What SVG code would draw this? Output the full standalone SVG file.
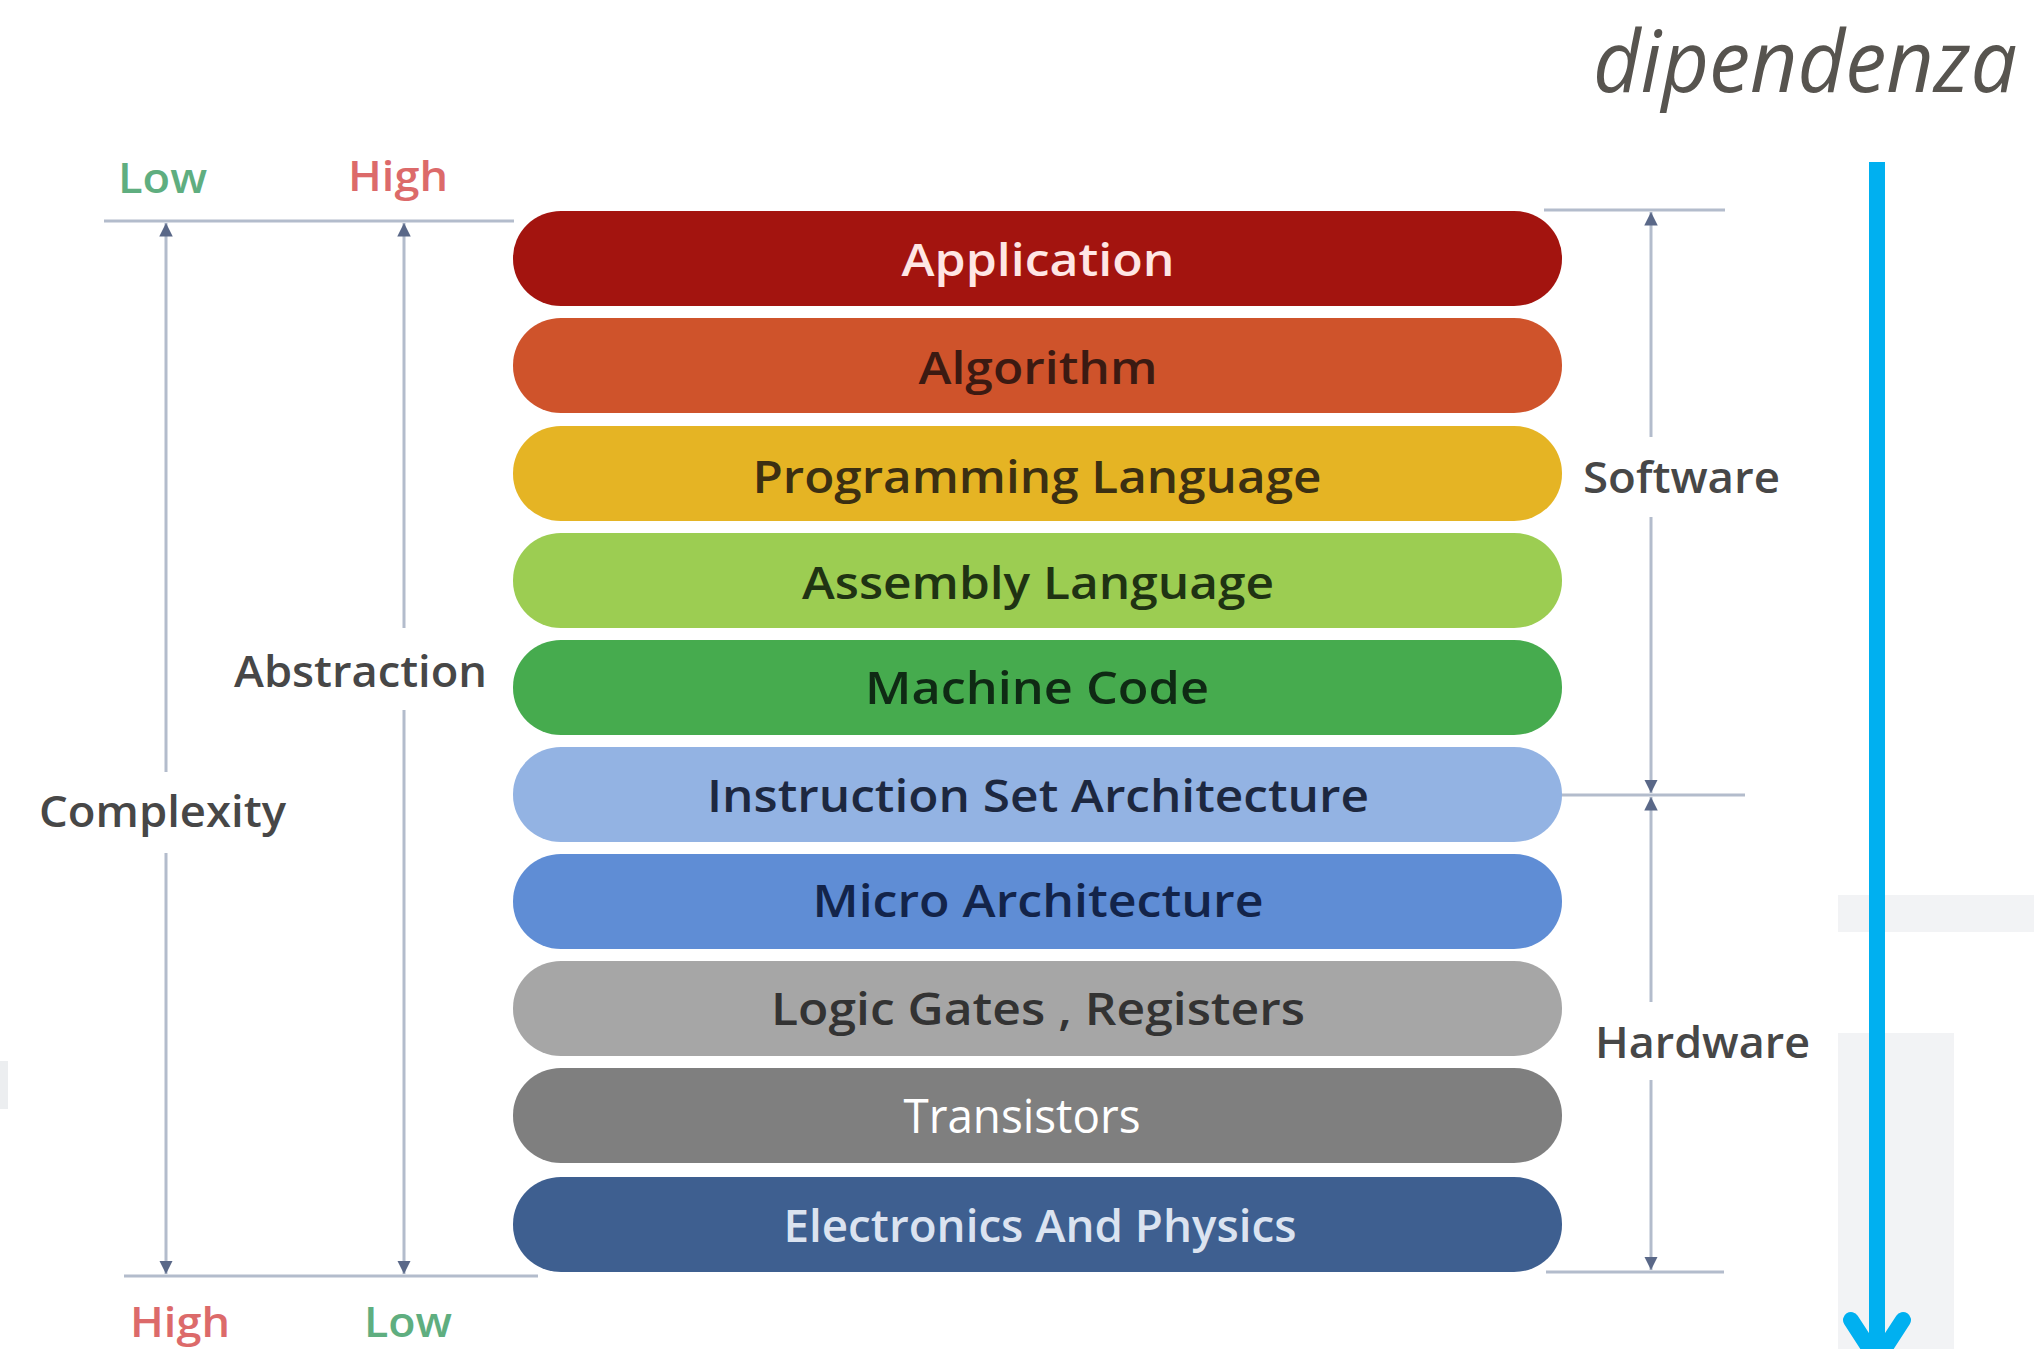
<svg xmlns="http://www.w3.org/2000/svg" width="2034" height="1349" viewBox="0 0 2034 1349">
<style>
.bar-t{font-family:"Open Sans","DejaVu Sans",sans-serif;font-weight:600;font-size:46px;text-anchor:middle}
.side{font-family:"Open Sans","DejaVu Sans",sans-serif;font-weight:600;font-size:43px;fill:#474747}
.lh{font-family:"Open Sans","DejaVu Sans",sans-serif;font-weight:600;font-size:41px}
.low{fill:#5fae80}
.high{fill:#dc6a6a}
.ln{stroke:#b3bccc;stroke-width:3;fill:none}
</style>
<defs>
<marker id="ah" viewBox="0 0 10 10" refX="10" refY="5" markerWidth="4.5" markerHeight="4.5" markerUnits="strokeWidth" orient="auto-start-reverse">
<path d="M0,0 L10,5 L0,10 z" fill="#5a6888"/>
</marker>
</defs>
<rect width="2034" height="1349" fill="#ffffff"/>
<rect x="1838" y="895" width="196" height="37" fill="#f2f3f5"/>
<rect x="1838" y="1033" width="116" height="316" fill="#f2f3f5"/>
<rect x="0" y="1061" width="8" height="48" fill="#eceef0"/>

<g id="connectors">
<line class="ln" x1="104" y1="221" x2="514" y2="221"/>
<line class="ln" x1="124" y1="1276" x2="538" y2="1276"/>
<line class="ln" x1="1544" y1="210" x2="1725" y2="210"/>
<line class="ln" x1="1560" y1="795" x2="1745" y2="795"/>
<line class="ln" x1="1546" y1="1272" x2="1724" y2="1272"/>
<line class="ln" x1="166" y1="772" x2="166" y2="223" marker-end="url(#ah)"/>
<line class="ln" x1="166" y1="853" x2="166" y2="1274" marker-end="url(#ah)"/>
<line class="ln" x1="404" y1="628" x2="404" y2="223" marker-end="url(#ah)"/>
<line class="ln" x1="404" y1="710" x2="404" y2="1274" marker-end="url(#ah)"/>
<line class="ln" x1="1651" y1="437" x2="1651" y2="212" marker-end="url(#ah)"/>
<line class="ln" x1="1651" y1="517" x2="1651" y2="793" marker-end="url(#ah)"/>
<line class="ln" x1="1651" y1="1002" x2="1651" y2="797" marker-end="url(#ah)"/>
<line class="ln" x1="1651" y1="1080" x2="1651" y2="1270" marker-end="url(#ah)"/>
<line x1="1877" y1="162" x2="1877" y2="1352" stroke="#00b0f0" stroke-width="16"/>
<polyline points="1851,1320 1877,1360 1903,1320" fill="none" stroke="#00b0f0" stroke-width="16" stroke-linecap="round" stroke-linejoin="round"/>
</g>

<g id="labels">
<text x="1593" y="92" font-family="'Open Sans','DejaVu Sans',sans-serif" font-style="italic" font-size="86" fill="#57544f" textLength="424" lengthAdjust="spacingAndGlyphs">dipendenza</text>
<text class="lh low" x="118" y="193" textLength="89" lengthAdjust="spacingAndGlyphs">Low</text>
<text class="lh high" x="348" y="191" textLength="100" lengthAdjust="spacingAndGlyphs">High</text>
<text class="lh high" x="130" y="1337" textLength="100" lengthAdjust="spacingAndGlyphs">High</text>
<text class="lh low" x="364" y="1337" textLength="88" lengthAdjust="spacingAndGlyphs">Low</text>
<text class="side" x="39" y="827" textLength="247" lengthAdjust="spacingAndGlyphs">Complexity</text>
<text class="side" x="234" y="687" textLength="253" lengthAdjust="spacingAndGlyphs">Abstraction</text>
<text class="side" x="1583" y="493" textLength="197" lengthAdjust="spacingAndGlyphs">Software</text>
<text class="side" x="1595" y="1058" textLength="215" lengthAdjust="spacingAndGlyphs">Hardware</text>
</g>

<g id="n1"><rect x="513" y="211" width="1049" height="95" rx="48" ry="47" fill="#a3140f"/><text class="bar-t" x="1038" y="276" fill="#ffe6e4" textLength="273" lengthAdjust="spacingAndGlyphs">Application</text></g>
<g id="n2"><rect x="513" y="318" width="1049" height="95" rx="48" ry="47" fill="#cf532b"/><text class="bar-t" x="1038" y="384" fill="#3b1a12" textLength="239" lengthAdjust="spacingAndGlyphs">Algorithm</text></g>
<g id="n3"><rect x="513" y="426" width="1049" height="95" rx="48" ry="47" fill="#e5b424"/><text class="bar-t" x="1037" y="493" fill="#3b2f12" textLength="569" lengthAdjust="spacingAndGlyphs">Programming Language</text></g>
<g id="n4"><rect x="513" y="533" width="1049" height="95" rx="48" ry="47" fill="#9ccd52"/><text class="bar-t" x="1038" y="599" fill="#1f3313" textLength="472" lengthAdjust="spacingAndGlyphs">Assembly Language</text></g>
<g id="n5"><rect x="513" y="640" width="1049" height="95" rx="48" ry="47" fill="#46ab4e"/><text class="bar-t" x="1037" y="704" fill="#0f2a14" textLength="344" lengthAdjust="spacingAndGlyphs">Machine Code</text></g>
<g id="n6"><rect x="513" y="747" width="1049" height="95" rx="48" ry="47" fill="#93b3e3"/><text class="bar-t" x="1038" y="812" fill="#1d2840" textLength="662" lengthAdjust="spacingAndGlyphs">Instruction Set Architecture</text></g>
<g id="n7"><rect x="513" y="854" width="1049" height="95" rx="48" ry="47" fill="#5f8dd5"/><text class="bar-t" x="1038" y="917" fill="#13244a" textLength="451" lengthAdjust="spacingAndGlyphs">Micro Architecture</text></g>
<g id="n8"><rect x="513" y="961" width="1049" height="95" rx="48" ry="47" fill="#a6a6a6"/><text class="bar-t" x="1038" y="1025" fill="#333333" textLength="534" lengthAdjust="spacingAndGlyphs">Logic Gates , Registers</text></g>
<g id="n9"><rect x="513" y="1068" width="1049" height="95" rx="48" ry="47" fill="#7f7f7f"/><text x="1022" y="1133" font-family="'Open Sans','DejaVu Sans',sans-serif" font-size="48" text-anchor="middle" fill="#ffffff" textLength="237" lengthAdjust="spacingAndGlyphs">Transistors</text></g>
<g id="n10"><rect x="513" y="1177" width="1049" height="95" rx="48" ry="47" fill="#3e5f90"/><text class="bar-t" x="1040" y="1242" fill="#dbe3f0" textLength="513" lengthAdjust="spacingAndGlyphs">Electronics And Physics</text></g>
</svg>
